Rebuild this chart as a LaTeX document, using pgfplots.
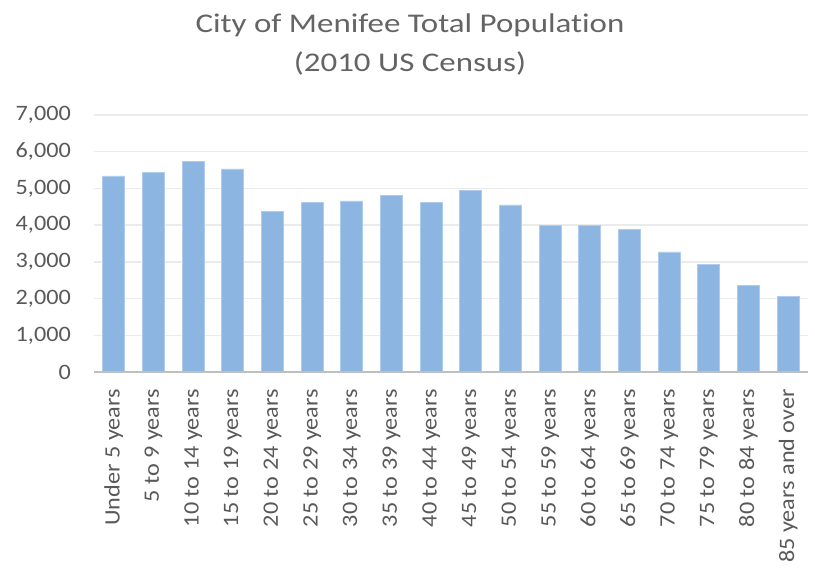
\documentclass[border=0pt]{standalone}
\usepackage{fontspec}
\setmainfont[FakeStretch=1.1, Ligatures=NoCommon]{Carlito}
\newfontfamily\titlefont[FakeStretch=1.22, Ligatures=NoCommon]{Carlito}
\usepackage{pgfplots}
\pgfplotsset{compat=1.18}
\definecolor{barfill}{RGB}{141,181,225}
\definecolor{baredge}{RGB}{176,204,236}
\definecolor{txt}{RGB}{89,89,89}
\definecolor{titlec}{RGB}{100,100,100}
\definecolor{gridc}{RGB}{235,235,235}
\definecolor{axisc}{RGB}{191,191,191}
\begin{document}
\begin{tikzpicture}
\begin{axis}[
  scale only axis, width=714bp, height=257bp,
  xmin=-0.5, xmax=17.5, ymin=0, ymax=7000,
  axis line style={draw=none},
  major tick length=0pt,
  ytick={0,1000,...,7000},
  ymajorgrids, grid style={gridc, line width=1.5bp},
  /pgf/number format/1000 sep={,},
  /pgf/number format/assume math mode=true,
  yticklabel style={font=\fontsize{22bp}{26bp}\selectfont, text=txt, anchor=east, inner sep=0pt, xshift=-23bp},
  xtick={0,...,17},
  xticklabels={Under 5 years,5 to 9 years,10 to 14 years,15 to 19 years,20 to 24 years,25 to 29 years,30 to 34 years,35 to 39 years,40 to 44 years,45 to 49 years,50 to 54 years,55 to 59 years,60 to 64 years,65 to 69 years,70 to 74 years,75 to 79 years,80 to 84 years,85 years and over},
  xticklabel style={font=\fontsize{22bp}{26bp}\selectfont, text=txt, yshift=-17bp, rotate=90, anchor=east, inner sep=0pt},
]
\addplot[ybar, bar width=22bp, fill=barfill, draw=baredge, line width=0.8bp] coordinates {
(0,5340) (1,5430) (2,5730) (3,5530) (4,4370) (5,4610) (6,4660) (7,4800) (8,4610)
(9,4950) (10,4550) (11,4000) (12,3980) (13,3880) (14,3270) (15,2930) (16,2360) (17,2070)
};
\draw[axisc, line width=2.5bp] (axis cs:-0.5,0) -- (axis cs:17.5,0);
\end{axis}
\node[anchor=base, text=titlec, font=\titlefont\fontsize{27bp}{32bp}\selectfont] at (316bp,339bp) {City of Menifee Total Population};
\node[anchor=base, text=titlec, font=\titlefont\fontsize{27bp}{32bp}\selectfont] at (316bp,300bp) {(2010 US Census)};
\pgfresetboundingbox
\path (-94bp,-200bp) rectangle (721bp,372bp);
\end{tikzpicture}
\end{document}
